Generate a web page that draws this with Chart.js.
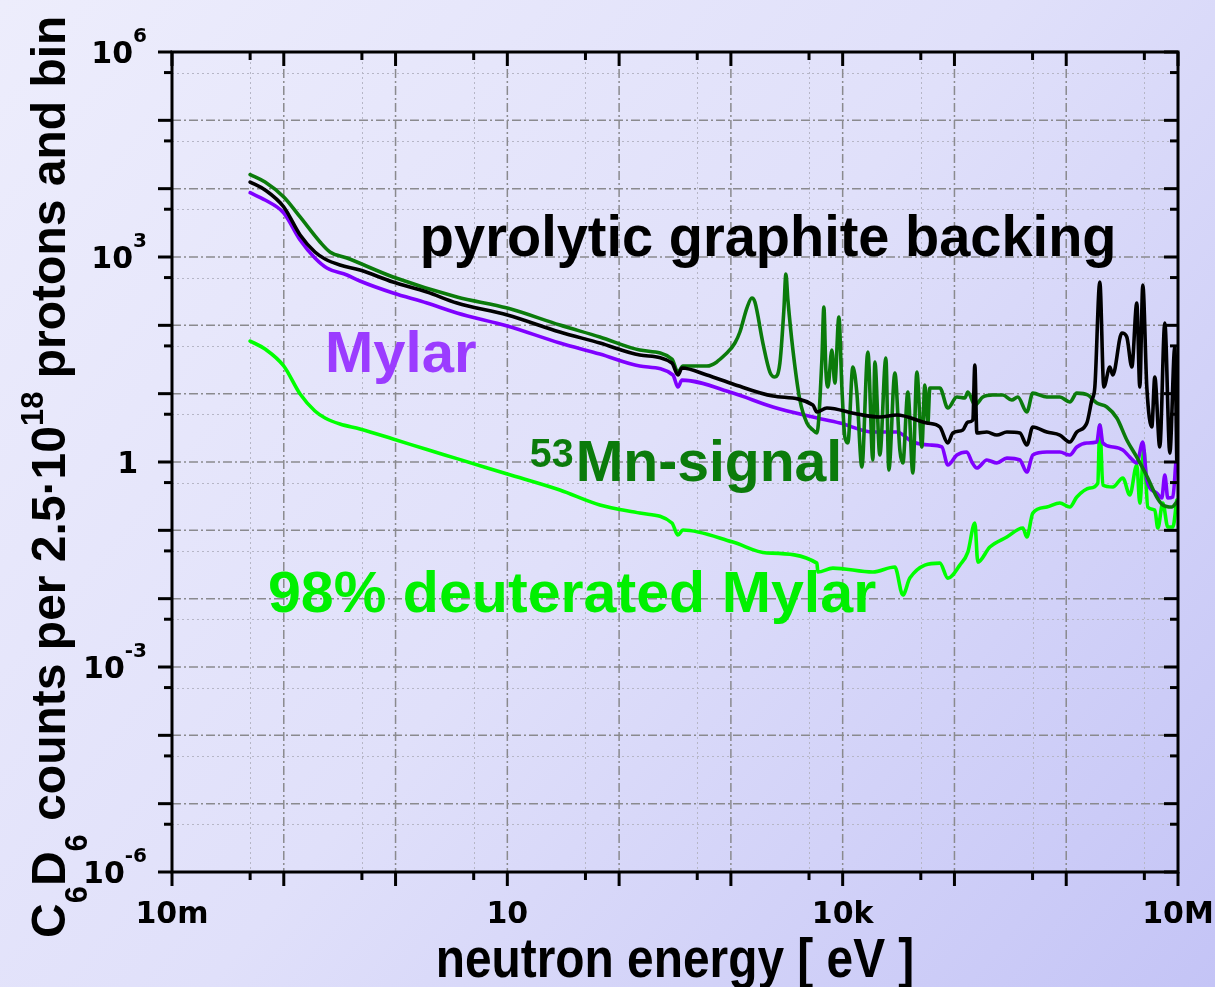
<!DOCTYPE html>
<html lang="en">
<head>
<meta charset="UTF-8">
<title>C6D6 counts vs neutron energy</title>
<script src="https://cdn.jsdelivr.net/npm/chart.js"></script>
<style>
  html, body { margin: 0; padding: 0; overflow: hidden; background: #e4e4fa; }
  canvas { display: block; }
</style>
</head>
<body>
<canvas id="spectrum" width="1215" height="987"></canvas>
<script>
// neutron energy [eV] and C6D6 counts per 2.5e18 protons and bin, one pair of arrays per sample
const graphiteE = [0.05, 0.068, 0.1, 0.14, 0.19, 0.234, 0.318, 0.48, 0.95, 1.91, 3.54, 10, 29.5, 67.3, 153, 297, 336, 365, 610, 1042,
  2375, 5414, 5879, 7222, 13400, 21510, 30530, 56600, 74050, 87300, 96760, 118900, 131800, 146100, 152200, 158700, 194900, 239400,
  294300, 384600, 444200, 502500, 670800, 876600, 1.077e6, 1.244e6, 1.529e6, 1.694e6, 1.803e6, 1.998e6, 2.17e6, 2.455e6, 2.611e6,
  3.143e6, 3.483e6, 3.862e6, 4.28e6, 4.553e6, 4.843e6, 5.26e6, 5.83e6, 6.2e6, 6.87e6, 7.62e6, 8.45e6, 9.36e6, 9.75e6];
const graphiteY = [12500, 9560, 5390, 2100, 1183, 935, 763, 645, 430, 307, 212, 141.6, 79.9, 55.1, 36.8, 28.1, 18.75, 23.7, 18.75, 13.84,
  9.24, 6.82, 5.39, 6.17, 5.04, 4.55, 4.87, 3.72, 3.25, 1.9, 2.66, 2.94, 3.85, 4.11, 26.3, 2.66, 2.75, 2.48,
  2.75, 2.66, 1.77, 3.25, 2.75, 2.48, 1.96, 2.75, 3.72, 8.07, 12.5, 430, 12.5, 24.6, 18.75,
  77.2, 67.5, 24.6, 212, 12.5, 389, 12.5, 3.25, 17.5, 1.66, 108, 1.35, 48.2, 1.07];

const mnE = [0.05, 0.068, 0.1, 0.14, 0.211, 0.259, 0.3675, 0.95, 3.54, 10, 29.5, 67.3, 153, 297, 336, 372, 610, 921, 1086, 1204,
  1390, 1541, 1640, 1933, 2233, 2475, 2744, 2979, 3105, 3236, 3589, 4142, 4786, 5414, 5879, 6516, 6789, 7074, 7373, 8008,
  8514, 9247, 9835, 10460, 11130, 12340, 13400, 14850, 16810, 18630, 19410, 21510, 24350, 25880, 29310, 32480, 34560, 38300,
  42460, 46100, 51100, 54350, 57800, 60260, 74050, 87300, 105100, 123900, 131800, 152200, 179500, 220600, 271000, 326100,
  369200, 444200, 502500, 670800, 876600, 1.077e6, 1.244e6, 1.56e6, 1.878e6, 2.308e6, 2.836e6, 3.483e6, 4.28e6, 5.26e6,
  6.46e6, 7.31e6, 8.8e6, 9.75e6];
const mnY = [16100, 12500, 7550, 3850, 1657, 1183, 966, 510, 260, 179, 101, 67.5, 43.5, 32.1, 20.7, 25.4, 25.4, 39.3, 55.1, 79.9,
  179, 251, 219, 55.1, 20.7, 17.5, 28.1, 168, 564, 235, 43.5, 8.07, 3.72, 2.94, 2.66, 31.1, 185, 22.2, 12.5, 43.5,
  14.3, 132, 12.5, 2.32, 1.9, 24.6, 10.2, 0.844, 40.7, 1.07, 29.1, 1.265, 33.2, 0.763, 20.1, 1.5, 0.966, 10.6,
  0.69, 20.7, 1.66, 13.4, 3.72, 12.1, 12.1, 6.17, 8.93, 8.64, 10.6, 6.82, 8.93, 9.56, 9.56, 8.07,
  8.93, 5.39, 10.2, 8.93, 8.93, 7.55, 10.2, 9.56, 7.3, 6.38, 4.4, 2.1, 1.18, 0.623,
  0.307, 0.235, 0.219, 0.26];

const mylarE = [0.05, 0.068, 0.1, 0.14, 0.19, 0.243, 0.3675, 0.48, 0.95, 1.91, 3.54, 10, 29.5, 67.3, 153, 303, 336, 365, 1042, 2375,
  5414, 9441, 18630, 30530, 42460, 60260, 77100, 87300, 105100, 129100, 143100, 158700, 194900, 239400, 294300, 384600,
  444200, 502500, 670800, 876600, 1.077e6, 1.244e6, 1.529e6, 1.878e6, 1.998e6, 2.126e6, 2.611e6, 3.208e6, 3.706e6, 4.28e6,
  4.843e6, 5.26e6, 6.46e6, 7.16e6, 7.62e6, 8.11e6, 8.99e6, 9.56e6];
const mylarY = [8730, 6820, 4400, 1773, 966, 690, 545, 445, 297, 212, 151.5, 97.7, 55.1, 38.0, 25.4, 18.75, 12.5, 15.8, 10.2, 6.38,
  4.55, 3.72, 2.75, 2.75, 1.96, 1.77, 1.66, 0.903, 1.265, 1.4, 1.0, 0.816, 1.07, 0.966, 1.14, 1.07,
  0.713, 1.265, 1.4, 1.4, 1.265, 1.66, 1.9, 1.96, 3.48, 1.9, 1.66, 1.5, 1.18, 0.966,
  1.96, 0.545, 0.351, 0.297, 0.645, 0.297, 0.307, 0.966];

const deutE = [0.05, 0.068, 0.1, 0.14, 0.19, 0.234, 0.318, 0.48, 0.95, 1.91, 3.54, 10, 29.5, 67.3, 153, 297, 336, 372, 1042, 2099,
  5879, 6000, 8170, 18630, 29310, 34560, 39900, 74050, 87300, 111800, 131800, 152200, 161900, 207300, 294300, 409100,
  444200, 502500, 670800, 876600, 1.077e6, 1.244e6, 1.626e6, 1.917e6, 1.998e6, 2.126e6, 2.611e6, 3.208e6, 3.706e6, 4.28e6,
  4.553e6, 4.944e6, 5.37e6, 6.2e6, 6.6e6, 7.31e6, 8.11e6, 8.99e6, 9.75e6];
const deutY = [58.9, 45.0, 25.4, 9.88, 5.57, 4.4, 3.59, 3.04, 2.17, 1.52, 1.12, 0.667, 0.389, 0.235, 0.179, 0.128, 0.0853, 0.101, 0.0674, 0.0466,
  0.0331, 0.0245, 0.028, 0.0245, 0.029, 0.0113, 0.02, 0.0331, 0.02, 0.031, 0.0481, 0.128, 0.0343, 0.057, 0.0798, 0.108,
  0.0798, 0.179, 0.219, 0.251, 0.219, 0.307, 0.416, 0.492, 3.48, 0.46, 0.43, 0.583, 0.329, 0.903,
  0.251, 1.5, 0.219, 0.198, 0.108, 0.251, 0.112, 0.112, 0.278];

// axis tick labels
const xTickValues = [0.01, 10, 1e4, 1e7];
const xTickLabels = ['10m', '10', '10k', '10M'];
const yTickValues = [1e6, 1e3, 1, 1e-3, 1e-6];
const yTickExps = ['6', '3', '', '-3', '-6'];

function toPoints(es, ys) {
  return es.map((e, i) => ({ x: e, y: ys[i] }));
}

// curve labels, anchored at (energy, counts) of their left baseline; sx squeezes the glyphs
const curveLabels = [
  { text: 'pyrolytic graphite backing', e: 1.65, c: 1030, color: '#000000', sx: 0.965 },
  { text: 'Mylar', e: 0.234, c: 21, color: '#9b3cff', sx: 1.0 },
  { sup: '53', text: 'Mn-signal', e: 15.9, c: 0.53, color: '#0b7b0b', sx: 0.985 },
  { text: '98% deuterated Mylar', e: 0.0722, c: 0.0064, color: '#00f000', sx: 1.02 }
];

const LABEL_FONT = '"Liberation Sans", Arial, sans-serif';
const TICK_FONT = '"DejaVu Sans", sans-serif';

function majorDecades(min, max) {
  const out = [];
  for (let k = Math.round(Math.log10(min)); k <= Math.round(Math.log10(max)); k++) out.push(Math.pow(10, k));
  return out;
}

const plotDecor = {
  id: 'plotDecor',
  beforeDraw(chart) {
    const { ctx, width, height } = chart;
    const g = ctx.createLinearGradient(0, 0, width, height);
    g.addColorStop(0, '#ededfc');
    g.addColorStop(0.5, '#e0e0fa');
    g.addColorStop(1, '#c4c4f6');
    ctx.save();
    ctx.fillStyle = g;
    ctx.fillRect(0, 0, width, height);
    ctx.restore();
  },
  beforeDatasetsDraw(chart) {
    const { ctx, chartArea: a, scales: { x, y } } = chart;
    const xs = majorDecades(x.min, x.max), ys = majorDecades(y.min, y.max);
    ctx.save();
    // minor grid at 5 x 10^k
    ctx.strokeStyle = '#b6b6c6';
    ctx.lineWidth = 1;
    ctx.setLineDash([2, 3]);
    xs.slice(0, -1).forEach(v => {
      const px = Math.round(x.getPixelForValue(5 * v)) + 0.5;
      ctx.beginPath(); ctx.moveTo(px, a.top); ctx.lineTo(px, a.bottom); ctx.stroke();
    });
    ys.slice(0, -1).forEach(v => {
      const py = Math.round(y.getPixelForValue(5 * v)) + 0.5;
      ctx.beginPath(); ctx.moveTo(a.left, py); ctx.lineTo(a.right, py); ctx.stroke();
    });
    // major grid at each decade
    ctx.strokeStyle = '#8a8a8e';
    ctx.lineWidth = 1.5;
    ctx.setLineDash([9, 3, 2, 3]);
    xs.slice(1, -1).forEach(v => {
      const px = x.getPixelForValue(v);
      ctx.beginPath(); ctx.moveTo(px, a.top); ctx.lineTo(px, a.bottom); ctx.stroke();
    });
    ys.slice(1, -1).forEach(v => {
      const py = y.getPixelForValue(v);
      ctx.beginPath(); ctx.moveTo(a.left, py); ctx.lineTo(a.right, py); ctx.stroke();
    });
    ctx.restore();
  },
  afterDatasetsDraw(chart) {
    const { ctx, chartArea: a, scales: { x, y } } = chart;
    const xs = majorDecades(x.min, x.max), ys = majorDecades(y.min, y.max);
    const MAJ = 14, MIN = 8;
    ctx.save();
    ctx.strokeStyle = '#000';
    ctx.lineWidth = 3;
    ctx.setLineDash([]);
    ctx.strokeRect(a.left, a.top, a.right - a.left, a.bottom - a.top);

    // ticks: outward on bottom/left, inward on top/right
    const tick = (x1, y1, x2, y2) => { ctx.beginPath(); ctx.moveTo(x1, y1); ctx.lineTo(x2, y2); ctx.stroke(); };
    xs.forEach((v, i) => {
      const px = x.getPixelForValue(v);
      tick(px, a.bottom, px, a.bottom + MAJ);
      tick(px, a.top, px, a.top + MAJ);
      if (i < xs.length - 1) {
        const pm = x.getPixelForValue(5 * v);
        tick(pm, a.bottom, pm, a.bottom + MIN);
        tick(pm, a.top, pm, a.top + MIN);
      }
    });
    ys.forEach((v, i) => {
      const py = y.getPixelForValue(v);
      tick(a.left, py, a.left - MAJ, py);
      tick(a.right, py, a.right - MAJ, py);
      if (i < ys.length - 1) {
        const pm = y.getPixelForValue(5 * v);
        tick(a.left, pm, a.left - MIN, pm);
        tick(a.right, pm, a.right - MIN, pm);
      }
    });

    // tick labels
    ctx.fillStyle = '#000';
    ctx.textBaseline = 'alphabetic';
    ctx.font = 'bold 30px ' + TICK_FONT;
    ctx.textAlign = 'center';
    xTickValues.forEach((v, i) => {
      ctx.fillText(xTickLabels[i], x.getPixelForValue(v), a.bottom + 51);
    });
    ctx.textAlign = 'left';
    yTickValues.forEach((v, i) => {
      const py = y.getPixelForValue(v) + 11;
      const exp = yTickExps[i];
      if (!exp) {
        ctx.font = 'bold 30px ' + TICK_FONT;
        ctx.textAlign = 'right';
        ctx.fillText('1', a.left - 34, py);
        ctx.textAlign = 'left';
        return;
      }
      ctx.font = 'bold 20px ' + TICK_FONT;
      const supW = ctx.measureText(exp).width;
      ctx.font = 'bold 30px ' + TICK_FONT;
      const baseW = ctx.measureText('10').width;
      const x0 = a.left - 25 - supW - baseW;
      ctx.fillText('10', x0, py);
      ctx.font = 'bold 20px ' + TICK_FONT;
      ctx.fillText(exp, x0 + baseW, py - 21);
    });

    // x axis title
    ctx.save();
    ctx.font = 'bold 55px ' + LABEL_FONT;
    ctx.textAlign = 'center';
    ctx.translate((a.left + a.right) / 2, a.bottom + 105);
    ctx.scale(0.87, 1);
    ctx.fillText('neutron energy [ eV ]', 0, 0);
    ctx.restore();

    // y axis title with sub/superscripts, rotated
    ctx.save();
    ctx.translate(65, 938);
    ctx.rotate(-Math.PI / 2);
    ctx.textAlign = 'left';
    const parts = [
      ['C', 0], ['6', 1], ['D', 0], ['6', 1], [' counts per 2.5\u00b710', 0], ['18', -1], [' protons and bin', 0]
    ];
    let cx = 0;
    parts.forEach(([t, mode]) => {
      ctx.font = mode ? 'bold 31px ' + LABEL_FONT : 'bold 48px ' + LABEL_FONT;
      const dy = mode === 1 ? 22 : mode === -1 ? -22 : 0;
      ctx.fillText(t, cx, dy);
      cx += ctx.measureText(t).width;
    });
    ctx.restore();

    // curve labels
    curveLabels.forEach(l => {
      ctx.save();
      ctx.fillStyle = l.color;
      ctx.textAlign = 'left';
      ctx.translate(x.getPixelForValue(l.e), y.getPixelForValue(l.c));
      ctx.scale(l.sx, 1);
      let lx = 0;
      if (l.sup) {
        ctx.font = 'bold 40px ' + LABEL_FONT;
        ctx.fillText(l.sup, 0, -14);
        lx = ctx.measureText(l.sup).width + 2;
      }
      ctx.font = 'bold 58px ' + LABEL_FONT;
      ctx.fillText(l.text, lx, 0);
      ctx.restore();
    });
    ctx.restore();
  }
};

const lineStyle = {
  pointRadius: 0, borderWidth: 3.6, fill: false,
  cubicInterpolationMode: 'monotone', borderJoinStyle: 'round', borderCapStyle: 'round'
};

new Chart(document.getElementById('spectrum'), {
  type: 'line',
  data: {
    datasets: [
      { label: 'pyrolytic graphite backing', data: toPoints(graphiteE, graphiteY), borderColor: '#000000', ...lineStyle },
      { label: '53Mn-signal', data: toPoints(mnE, mnY), borderColor: '#0b7b0b', ...lineStyle },
      { label: 'Mylar', data: toPoints(mylarE, mylarY), borderColor: '#7f00ff', ...lineStyle },
      { label: '98% deuterated Mylar', data: toPoints(deutE, deutY), borderColor: '#00ff00', ...lineStyle }
    ]
  },
  options: {
    responsive: false,
    animation: false,
    layout: { padding: { left: 172, top: 52, right: 37, bottom: 115 } },
    plugins: { legend: { display: false }, tooltip: { enabled: false } },
    scales: {
      x: { type: 'logarithmic', min: 0.01, max: 1e7, display: false },
      y: { type: 'logarithmic', min: 1e-6, max: 1e6, display: false }
    }
  },
  plugins: [plotDecor]
});
</script>
</body>
</html>
